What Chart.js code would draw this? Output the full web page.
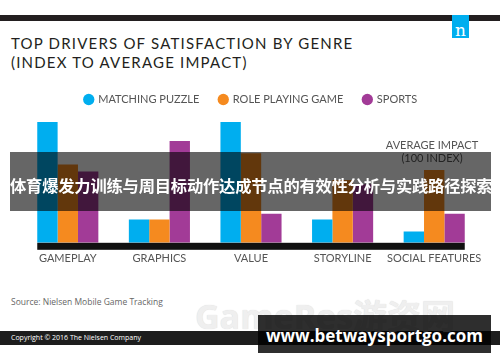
<!DOCTYPE html>
<html>
<head>
<meta charset="utf-8">
<script src="https://cdn.jsdelivr.net/npm/chart.js@4"></script>
<style>
  body { margin: 0; width: 500px; height: 362px; overflow: hidden; background: #fff; position: relative; font-family: Lato, sans-serif; }
  .abs { position: absolute; }
  #topbar { left: 0; top: 15px; width: 500px; height: 6px; background: #231f20; }
  #logo { left: 452px; top: 15px; width: 17px; height: 23px; background: #00aeef; color: #fff; font: 17px "DejaVu Serif", serif; text-align: center; line-height: 30px; }
  #title { left: 11px; top: 34px; font-size: 15px; line-height: 19px; letter-spacing: 1.2px; color: #231f20; }
  #chartBox { left: 0; top: 74px; width: 500px; height: 200px; }
  #avg { left: 372px; top: 138px; width: 120px; text-align: center; font-size: 11px; line-height: 13px; color: #555; }
  #banner { left: 10px; top: 152px; width: 481px; height: 59px; background: rgba(0,0,0,0.6); color: #fff; font: bold 16.3px "Noto Sans CJK SC", sans-serif; text-align: center; line-height: 66px; white-space: nowrap; letter-spacing: -0.2px; z-index: 5; }
  #source { left: 11px; top: 296px; font: 8.5px "Open Sans", sans-serif; color: #666; }
  #wm { left: 195px; top: 290px; font: bold 34px "Open Sans", "Noto Sans CJK SC", sans-serif; color: #efefef; text-shadow: 0 0 1px #d6d6d6; z-index: 2; }
  #copybar { left: 0; top: 331px; width: 500px; height: 14px; background: #1d1d1d; color: #fff; font: 7px "Open Sans", sans-serif; line-height: 14px; z-index: 1; }
  #copybar span { margin-left: 11px; }
  #url { left: 258px; top: 315px; width: 233px; height: 38px; background: rgba(0,0,0,0.82); color: #fff; font: bold 17px "Open Sans", sans-serif; text-align: center; line-height: 42px; z-index: 6; }
</style>
</head>
<body>
<div id="topbar" class="abs"></div>
<div id="logo" class="abs">n</div>
<div id="title" class="abs">TOP DRIVERS OF SATISFACTION BY GENRE<br>(INDEX TO AVERAGE IMPACT)</div>
<div id="chartBox" class="abs"><canvas id="chart"></canvas></div>
<div id="avg" class="abs">AVERAGE IMPACT<br>(100 INDEX)</div>
<div id="banner" class="abs">体育爆发力训练与周目标动作达成节点的有效性分析与实践路径探索</div>
<div id="source" class="abs">Source: Nielsen Mobile Game Tracking</div>
<div id="wm" class="abs">GameRes游资网</div>
<div id="copybar" class="abs"><span>Copyright © 2016 The Nielsen Company</span></div>
<div id="url" class="abs">www.betwaysportgo.com</div>

<script>
// categories and index values (100 = average impact)
var categories = ['GAMEPLAY', 'GRAPHICS', 'VALUE', 'STORYLINE', 'SOCIAL FEATURES'];
var matchingPuzzle = [171, 33, 171, 33, 16];
var rolePlaying = [111, 33, 127, 89, 103];
var sports = [101, 144, 41, 83, 41];

// thick black base line under the bars
var baseLine = {
    id: 'baseLine',
    afterDatasetsDraw: function(chart) {
        var first = chart.getDatasetMeta(0).data[0];
        var last = chart.getDatasetMeta(2).data[categories.length - 1];
        if (!first || !last) return;
        var ctx = chart.ctx;
        var left = first.x - first.width / 2;
        var right = last.x + last.width / 2;
        ctx.save();
        ctx.fillStyle = '#111';
        ctx.fillRect(left, chart.chartArea.bottom, right - left, 7);
        ctx.restore();
    }
};

var ctx = document.getElementById('chart').getContext('2d');
new Chart(ctx, {
    type: 'bar',
    data: {
        labels: categories,
        datasets: [
            { label: 'MATCHING PUZZLE', data: matchingPuzzle, backgroundColor: '#00aeef' },
            { label: 'ROLE PLAYING GAME', data: rolePlaying, backgroundColor: '#f58a1f' },
            { label: 'SPORTS', data: sports, backgroundColor: '#a23b97' }
        ]
    },
    options: {
        responsive: true,
        maintainAspectRatio: false,
        animation: false,
        layout: { padding: { left: 22, right: 20 } },
        datasets: { bar: { categoryPercentage: 0.667, barPercentage: 1 } },
        plugins: {
            legend: {
                position: 'top',
                labels: {
                    usePointStyle: true,
                    pointStyle: 'circle',
                    boxWidth: 8,
                    boxHeight: 8,
                    padding: 20,
                    color: '#555',
                    font: { family: 'Lato', size: 11 }
                }
            },
            tooltip: { enabled: false }
        },
        scales: {
            x: {
                grid: { display: false, drawTicks: false },
                border: { display: false },
                ticks: { color: '#555', padding: 9, maxRotation: 0, autoSkip: false, font: { family: 'Lato', size: 11 } }
            },
            y: { display: false, min: 0, max: 181 }
        }
    },
    plugins: [baseLine]
});
</script>
</body>
</html>
